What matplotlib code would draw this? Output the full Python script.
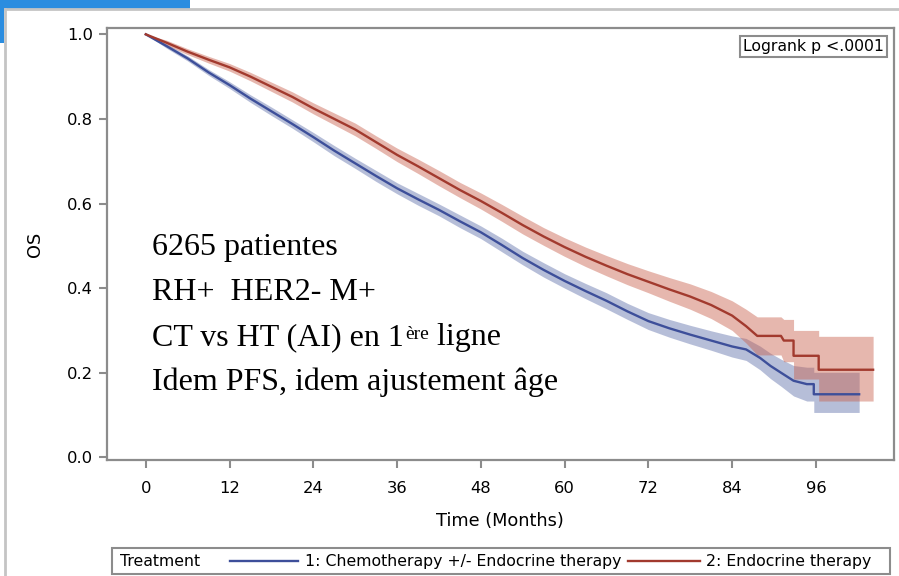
import matplotlib
matplotlib.use("Agg")
import matplotlib.pyplot as plt
from matplotlib.patches import Rectangle
from matplotlib.lines import Line2D

# Kaplan-Meier OS (months, survival, 95% band)
months_ct = [0, 3, 6, 9, 12, 15, 18, 21, 24, 27, 30, 33, 36, 39, 42, 45, 48, 51, 54, 57,
             60, 63, 66, 69, 72, 75, 78, 81, 84, 86, 88, 89.5, 91, 92.8, 94.7, 95.7, 95.7, 102.2]
os_ct = [1.0, .972, .943, .91, .88, .848, .818, .788, .757, .725, .695, .665, .636, .61, .585,
         .558, .532, .502, .471, .443, .417, .393, .37, .345, .322, .305, .29, .276, .262, .255,
         .235, .216, .2, .181, .173, .173, .149, .149]
lo_ct = [1.0, .967, .937, .903, .872, .839, .808, .778, .746, .713, .683, .652, .623, .596, .571,
         .543, .517, .486, .455, .426, .400, .375, .351, .326, .302, .284, .268, .253, .237, .229,
         .207, .186, .168, .145, .133, .133, .106, .106]
hi_ct = [1.0, .977, .949, .917, .888, .857, .828, .798, .768, .737, .707, .678, .649, .624, .599,
         .573, .547, .518, .487, .460, .434, .411, .389, .364, .342, .326, .312, .299, .287, .281,
         .263, .246, .232, .217, .213, .213, .201, .201]

months_ht = [0, 3, 6, 9, 12, 15, 18, 21, 24, 27, 30, 33, 36, 39, 42, 45, 48, 51, 54, 57,
             60, 63, 66, 69, 72, 75, 78, 81, 84, 86, 87.6, 91.0, 91.4, 92.8, 92.8, 96.4, 96.4, 104.2]
os_ht = [1.0, .98, .959, .94, .922, .9, .876, .852, .825, .8, .775, .745, .715, .688, .66,
         .632, .606, .578, .549, .522, .497, .474, .453, .433, .415, .397, .38, .36, .335, .31,
         .287, .287, .276, .276, .24, .24, .207, .207]
lo_ht = [1.0, .974, .952, .932, .913, .89, .865, .84, .812, .786, .76, .73, .699, .671, .642,
         .614, .587, .558, .528, .501, .475, .451, .429, .408, .389, .369, .35, .328, .30, .27,
         .242, .242, .226, .226, .185, .185, .133, .133]
hi_ht = [1.0, .986, .966, .948, .931, .91, .887, .864, .838, .814, .79, .76, .731, .705, .678,
         .65, .625, .598, .570, .543, .519, .497, .477, .458, .441, .425, .41, .392, .37, .35,
         .332, .332, .326, .326, .30, .30, .286, .286]

x_ticks = [0, 12, 24, 36, 48, 60, 72, 84, 96]
y_ticks = [0.0, 0.2, 0.4, 0.6, 0.8, 1.0]
labels = ["1: Chemotherapy +/- Endocrine therapy", "2: Endocrine therapy"]
note = ["6265 patientes", "RH+  HER2- M+", "Idem PFS, idem ajustement âge"]

blue, red = "#3d4f9a", "#a23a2e"
grey = "#8c8c8c"
serif = "Liberation Serif"

fig = plt.figure(figsize=(8.99, 5.76), dpi=100)
ax = fig.add_axes([0.1187, 0.2014, 0.8758, 0.75])

ax.fill_between(months_ct, lo_ct, hi_ct, color="#6f7eb3", alpha=0.5, lw=0)
ax.fill_between(months_ht, lo_ht, hi_ht, color="#c9604c", alpha=0.45, lw=0)
ax.plot(months_ct, os_ct, color=blue, lw=1.7)
ax.plot(months_ht, os_ht, color=red, lw=1.7)

ax.set_xlim(-5.6, 107.2)
ax.set_ylim(-0.0064, 1.015)
ax.set_xticks(x_ticks)
ax.set_yticks(y_ticks)
ax.set_yticklabels([f"{v:.1f}" for v in y_ticks])
for s in ax.spines.values():
    s.set_color(grey)
    s.set_linewidth(1.6)
ax.tick_params(direction="out", length=6, width=1.5, color=grey, labelsize=11.8, pad=4)
ax.tick_params(axis="x", pad=9)
ax.set_xlabel("Time (Months)", fontsize=12.8, labelpad=12)
ax.set_ylabel("OS", fontsize=12.8, labelpad=16)

ax.text(0.9875, 0.975, "Logrank p <.0001", transform=ax.transAxes, ha="right", va="top",
        fontsize=11.3, bbox=dict(boxstyle="square,pad=0.2", fc="white", ec=grey, lw=1.5))

# big serif note inside the plot
fs = 23
fig.text(0.169, 0.557, note[0], fontsize=fs, family=serif, va="baseline")
fig.text(0.169, 0.479, note[1], fontsize=fs, family=serif, va="baseline")
t3 = fig.text(0.169, 0.401, "CT vs HT (AI) en 1", fontsize=fs, family=serif, va="baseline")
sup = ax.annotate("ère", xy=(1, 1), xycoords=t3, xytext=(1, -2), textcoords="offset points",
                  ha="left", va="top", fontsize=14, family=serif)
ax.annotate(" ligne", xy=(1, 0), xycoords=(sup, t3), ha="left", va="bottom",
            fontsize=fs, family=serif)
fig.text(0.169, 0.323, note[2], fontsize=fs, family=serif, va="baseline")

# legend strip at the bottom
fig.add_artist(Rectangle((0.1246, 0.0035), 0.8654, 0.045, transform=fig.transFigure,
                         fc="white", ec=grey, lw=1.5))
ly = 0.026
fig.text(120 / 899, ly, "Treatment", fontsize=11.3, va="center")
fig.add_artist(Line2D([230 / 899, 298 / 899], [ly, ly], color=blue, lw=1.7))
fig.text(305 / 899, ly, labels[0], fontsize=11.3, va="center")
fig.add_artist(Line2D([628 / 899, 700 / 899], [ly, ly], color=red, lw=1.7))
fig.text(706 / 899, ly, labels[1], fontsize=11.3, va="center")

# screenshot frame
fig.add_artist(Line2D([5 / 899, 1], [0.984, 0.984], color="#c4c4c4", lw=2))
fig.add_artist(Line2D([5 / 899, 5 / 899], [0, 0.984], color="#c4c4c4", lw=2))
fig.add_artist(Rectangle((0, 0.984), 0.211, 0.016, transform=fig.transFigure,
                         fc="#2b8de0", ec="none"))
fig.add_artist(Rectangle((0, 0.925), 0.0045, 0.075, transform=fig.transFigure,
                         fc="#2b8de0", ec="none"))

fig.savefig("out.png", dpi=100)
